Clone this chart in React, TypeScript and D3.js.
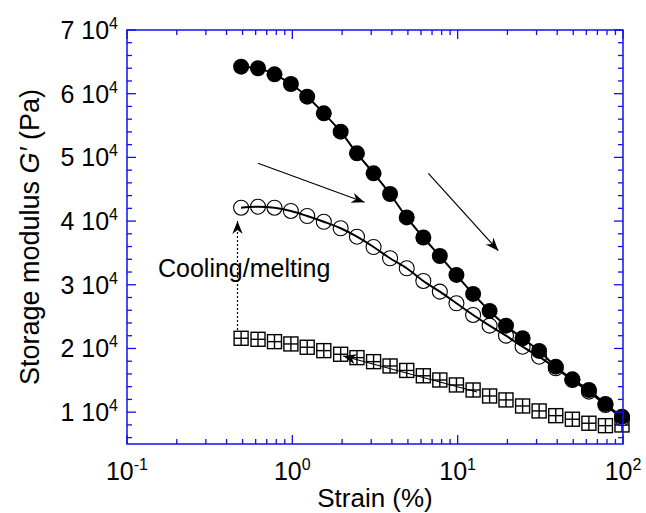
import React from 'react';
import * as d3 from 'd3';

// Data (strain in %, modulus in Pa)
const strain = [0.49, 0.62, 0.78, 0.98, 1.23, 1.55, 1.96, 2.46, 3.1, 3.9, 4.92, 6.2, 7.8, 9.83, 12.4, 15.6, 19.6, 24.7, 31.1, 39.2, 49.4, 62.2, 78.3, 98.6];
const gFilled = [64240, 63990, 63040, 61520, 59530, 56920, 54040, 50640, 47500, 44250, 40570, 37420, 34520, 31540, 28560, 25890, 23580, 21600, 19610, 17140, 15160, 13480, 11290, 9290];
const gOpen = [42100, 42260, 42100, 41590, 40800, 39900, 38870, 37550, 35930, 34160, 32590, 30600, 28920, 27100, 25260, 23580, 22010, 20280, 18710, 16890, 15050, 13220, 11130, 9040];
const gSquare = [21600, 21440, 21070, 20710, 20190, 19660, 19090, 18560, 17930, 17250, 16550, 15710, 15050, 14270, 13480, 12540, 11920, 10970, 10190, 9450, 8890, 8260, 7880, 7990];

const yTickMantissa = [1, 2, 3, 4, 5, 6, 7];
const xTickExponents = [-1, 0, 1, 2];

// Annotation arrows in data space: [x1, y1, x2, y2]
const arrowDown1 = [0.62, 49070, 2.73, 42950];
const arrowDown2 = [6.65, 47500, 17.6, 35350];
const arrowBack = [13.1, 13170, 2.03, 18820];
const arrowCooling = [0.466, 22900, 0.466, 40020];
const coolingLabel = { x: 0.154, y: 31200, text: 'Cooling/melting' };

const W = 646, H = 513;
const L = 127, R = 623, T = 30, B = 444;
const FONT = "'Liberation Sans', Arial, Helvetica, sans-serif";
const BLUE = '#1010f0';

export default function App() {
  const x = d3.scaleLog().domain([0.1, 100]).range([L, R]);
  const y = d3.scaleLinear().domain([5000, 70000]).range([B, T]);

  const filledPts = strain.map((s, i) => [x(s), y(gFilled[i])] as [number, number]);
  const openPts = strain.map((s, i) => [x(s), y(gOpen[i])] as [number, number]);
  const sqPts = strain.map((s, i) => [x(s), y(gSquare[i])] as [number, number]);

  const lineGen = d3.line().curve(d3.curveMonotoneX);

  const yMinor = d3.range(6000, 70001, 2000).filter(v => v % 10000 !== 0);
  const yMajor = yTickMantissa.map(m => m * 10000);
  const xMajor = xTickExponents.map(e => Math.pow(10, e));
  const xMinor: number[] = [];
  for (let e = -1; e < 2; e++) for (let k = 2; k <= 9; k++) xMinor.push(k * Math.pow(10, e));

  const MAJ = 9, MIN = 5;

  const arrow = (a: number[], id: string, dashed = false) => (
    <line x1={x(a[0])} y1={y(a[1])} x2={x(a[2])} y2={y(a[3])}
      stroke="#000" strokeWidth={1.2} strokeDasharray={dashed ? '2,2' : undefined}
      markerEnd={`url(#${id})`} />
  );

  return (
    <svg width={W} height={H} style={{ position: 'absolute', left: 0, top: 0, background: '#fff' }}
      fontFamily={FONT}>
      <defs>
        <marker id="ah" markerUnits="userSpaceOnUse" markerWidth={16} markerHeight={12}
          refX={13} refY={6} orient="auto" viewBox="0 0 16 12">
          <path d="M13,6 L0,0.8 L4,6 L0,11.2 Z" fill="#000" />
        </marker>
      </defs>
      <rect x={0} y={0} width={W} height={H} fill="#fff" />

      {/* squares */}
      {sqPts.map(([cx, cy], i) => (
        <g key={'s' + i} stroke="#000" strokeWidth={1.4} fill="#fff">
          <rect x={cx - 7} y={cy - 7} width={14} height={14} />
          <line x1={cx - 7} x2={cx + 7} y1={cy} y2={cy} />
          <line x1={cx} x2={cx} y1={cy - 7} y2={cy + 7} />
        </g>
      ))}

      {/* open circles */}
      {openPts.map(([cx, cy], i) => (
        <circle key={'o' + i} cx={cx} cy={cy} r={7.5} fill="#fff" stroke="#000" strokeWidth={1.1} />
      ))}
      <path d={lineGen(openPts) || ''} fill="none" stroke="#000" strokeWidth={2} />

      {/* filled */}
      <path d={lineGen(filledPts) || ''} fill="none" stroke="#000" strokeWidth={2} />
      {filledPts.map(([cx, cy], i) => (
        <circle key={'f' + i} cx={cx} cy={cy} r={8} fill="#000" />
      ))}

      {/* annotations */}
      {arrow(arrowDown1, 'ah')}
      {arrow(arrowDown2, 'ah')}
      {arrow(arrowBack, 'ah')}
      {arrow(arrowCooling, 'ah', true)}
      <text x={x(coolingLabel.x)} y={y(coolingLabel.y)} fontSize={25} fill="#000">{coolingLabel.text}</text>

      {/* frame */}
      <rect x={L} y={T} width={R - L} height={B - T} fill="none" stroke={BLUE} strokeWidth={1.5} />
      <g stroke={BLUE} strokeWidth={1.3}>
        {yMajor.map(v => (
          <g key={'ym' + v}>
            <line x1={L} x2={L + MAJ} y1={y(v)} y2={y(v)} />
            <line x1={R} x2={R - MAJ} y1={y(v)} y2={y(v)} />
          </g>
        ))}
        {yMinor.map(v => (
          <g key={'yn' + v}>
            <line x1={L} x2={L + MIN} y1={y(v)} y2={y(v)} />
            <line x1={R} x2={R - MIN} y1={y(v)} y2={y(v)} />
          </g>
        ))}
        {xMajor.map(v => (
          <g key={'xm' + v}>
            <line x1={x(v)} x2={x(v)} y1={B} y2={B - MAJ} />
            <line x1={x(v)} x2={x(v)} y1={T} y2={T + MAJ} />
          </g>
        ))}
        {xMinor.map(v => (
          <g key={'xn' + v}>
            <line x1={x(v)} x2={x(v)} y1={B} y2={B - MIN} />
            <line x1={x(v)} x2={x(v)} y1={T} y2={T + MIN} />
          </g>
        ))}
      </g>

      {/* y tick labels */}
      {yTickMantissa.map(m => (
        <text key={'yl' + m} x={L - 9} y={y(m * 10000) + 9} fontSize={25} textAnchor="end" fill="#000">
          {m} 10<tspan fontSize={16} dy={-10}>4</tspan>
        </text>
      ))}
      {/* x tick labels */}
      {xTickExponents.map(e => (
        <text key={'xl' + e} x={x(Math.pow(10, e))} y={480} fontSize={25} textAnchor="middle" fill="#000">
          10<tspan fontSize={16} dy={-10}>{e}</tspan>
        </text>
      ))}

      {/* axis titles */}
      <text x={(L + R) / 2} y={507} fontSize={26} textAnchor="middle" fill="#000">Strain (%)</text>
      <text transform={`translate(39,${(T + B) / 2}) rotate(-90)`} fontSize={27} textAnchor="middle" fill="#000">
        Storage modulus <tspan fontStyle="italic">G′</tspan> (Pa)
      </text>
    </svg>
  );
}
